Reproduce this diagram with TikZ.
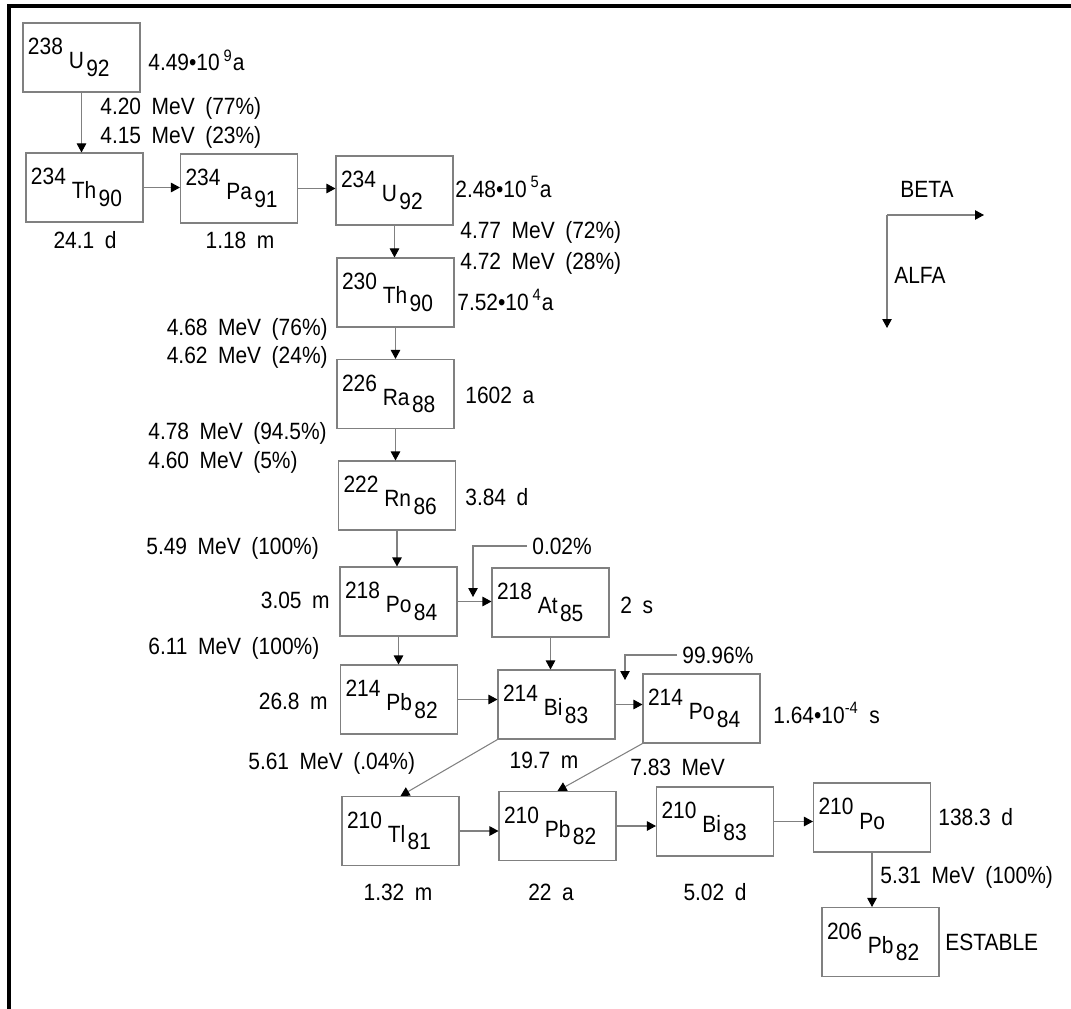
\documentclass[tikz,border=0pt]{standalone}
\usepackage{fontspec}
\setmainfont{Liberation Sans}[FakeStretch=0.89]
\usetikzlibrary{arrows.meta}

\newcommand{\decayfont}{\fontsize{13.4}{15}\selectfont\spaceskip=6pt\relax}
\newcommand{\iso}[3]{\raisebox{0.6em}{#1}\hspace{0.25em}#2\hspace{0.1em}\raisebox{-0.32em}{#3}}

\begin{document}
\begin{tikzpicture}[
    x=0.2mm, y=-0.2mm,
    >={Triangle[length=1.8mm,width=1.9mm,color=black]},
    nucl/.style={draw=gray, line width=0.6pt, minimum height=13.8mm, text width=21.4mm,
                 inner xsep=1mm, inner ysep=0pt, align=left, font=\decayfont},
    txt/.style={font=\decayfont, inner sep=0pt},
    conn/.style={->, draw=gray, line width=0.6pt}
]
\useasboundingbox (0,0) rectangle (1071,1009);

% Frame (left and top only)
\draw[line width=2.6pt] (9,1009) -- (9,6) -- (1071,6);

% === Nuclides ===
\node[nucl] (u238)  at (81.5,57.5)  {\iso{238}{U}{92}};
\node[nucl] (th234) at (84.5,187.5) {\iso{234}{Th}{90}};
\node[nucl] (pa234) at (239,188.5)  {\iso{234}{Pa}{91}};
\node[nucl] (u234)  at (394.5,190.5) {\iso{234}{U}{92}};
\node[nucl] (th230) at (395.5,292.5) {\iso{230}{Th}{90}};
\node[nucl] (ra226) at (395.5,394)  {\iso{226}{Ra}{88}};
\node[nucl] (rn222) at (397,495.5)  {\iso{222}{Rn}{86}};
\node[nucl] (po218) at (398.5,601.5) {\iso{218}{Po}{84}};
\node[nucl] (at218) at (550.5,602.5) {\iso{218}{At}{85}};
\node[nucl] (pb214) at (399,699.5)  {\iso{214}{Pb}{82}};
\node[nucl] (bi214) at (556.5,704.5) {\iso{214}{Bi}{83}};
\node[nucl] (po214) at (701.5,708.5) {\iso{214}{Po}{84}};
\node[nucl] (tl210) at (400.5,831)  {\iso{210}{Tl}{81}};
\node[nucl] (pb210) at (557.5,826)  {\iso{210}{Pb}{82}};
\node[nucl] (bi210) at (715,821.5)  {\iso{210}{Bi}{83}};
\node[nucl] (po210) at (872,817.5)  {\iso{210}{Po}{}};
\node[nucl] (pb206) at (880.5,942)  {\iso{206}{Pb}{82}};

% === Decays ===
\draw[conn] (u238.south) -- (u238.south |- th234.north);
\draw[conn] (th234.east) -- (th234.east -| pa234.west);
\draw[conn] (pa234.east) -- (pa234.east -| u234.west);
\draw[conn] (u234.south) -- (u234.south |- th230.north);
\draw[conn] (th230.south) -- (th230.south |- ra226.north);
\draw[conn] (ra226.south) -- (ra226.south |- rn222.north);
\draw[conn] (rn222.south) -- (rn222.south |- po218.north);
\draw[conn] (po218.east) -- (po218.east -| at218.west);
\draw[conn] (po218.south) -- (po218.south |- pb214.north);
\draw[conn] (at218.south) -- (at218.south |- bi214.north);
\draw[conn] (pb214.east) -- (pb214.east -| bi214.west);
\draw[conn] (bi214.east) -- (bi214.east -| po214.west);
\draw[conn] (bi214.south west) -- (tl210.north);
\draw[conn] (po214.south west) -- (pb210.north);
\draw[conn] (tl210.east) -- (tl210.east -| pb210.west);
\draw[conn] (pb210.east) -- (pb210.east -| bi210.west);
\draw[conn] (bi210.east) -- (bi210.east -| po210.west);
\draw[conn] (po210.south) -- (po210.south |- pb206.north);

% === Branching ratios ===
\node[txt, anchor=west, inner xsep=1mm] (br002) at (527,546) {0.02\%};
\coordinate (br002end) at (473,597);
\draw[conn] (br002.west) -| (br002end);
\node[txt, anchor=west, inner xsep=1mm] (br9996) at (677,655) {99.96\%};
\coordinate (br9996end) at (625,680);
\draw[conn] (br9996.west) -| (br9996end);

% === Half-lives ===
\node[txt, anchor=west] (tu238)  at (148,60)  {4.49\textbullet10\,\textsuperscript{9}a};
\node[txt] (tth234) at (85,240)  {24.1 d};
\node[txt] (tpa234) at (240,240) {1.18 m};
\node[txt, anchor=west] (tu234)  at (455,187) {2.48\textbullet10\,\textsuperscript{5}a};
\node[txt, anchor=west] (tth230) at (457,300) {7.52\textbullet10\,\textsuperscript{4}a};
\node[txt, anchor=west] (tra226) at (465,395) {1602 a};
\node[txt, anchor=west] (trn222) at (465,497) {3.84 d};
\node[txt, anchor=east] (tpo218) at (330,600) {3.05 m};
\node[txt, anchor=west] (tat218) at (620,605) {2 s};
\node[txt, anchor=east] (tpb214) at (328,701) {26.8 m};
\node[txt] (tbi214) at (544,760) {19.7 m};
\node[txt, anchor=west] (tpo214) at (773,713) {1.64\textbullet10\textsuperscript{-4} s};
\node[txt] (ttl210) at (398,892) {1.32 m};
\node[txt] (tpb210) at (551,892) {22 a};
\node[txt] (tbi210) at (715,892) {5.02 d};
\node[txt, anchor=west] (tpo210) at (938,817) {138.3 d};
\node[txt, anchor=west] (tpb206) at (945,942) {ESTABLE};

% === Alpha energies ===
\node[txt, anchor=west] (eu238a) at (100,108) {4.20 MeV (77\%)};
\node[txt, anchor=west] (eu238b) at (100,137) {4.15 MeV (23\%)};
\node[txt, anchor=west] (eu234a) at (460,232) {4.77 MeV (72\%)};
\node[txt, anchor=west] (eu234b) at (460,263) {4.72 MeV (28\%)};
\node[txt, anchor=east] (eth230a) at (328,329) {4.68 MeV (76\%)};
\node[txt, anchor=east] (eth230b) at (328,357) {4.62 MeV (24\%)};
\node[txt, anchor=west] (era226a) at (148,433) {4.78 MeV (94.5\%)};
\node[txt, anchor=west] (era226b) at (148,462) {4.60 MeV (5\%)};
\node[txt, anchor=west] (ern222) at (146,548) {5.49 MeV (100\%)};
\node[txt, anchor=west] (epo218) at (148,648) {6.11 MeV (100\%)};
\node[txt, anchor=west] (ebi214) at (248,763) {5.61 MeV (.04\%)};
\node[txt, anchor=west] (epo214) at (630,767) {7.83 MeV};
\node[txt, anchor=west] (epo210) at (880,877) {5.31 MeV (100\%)};

% === Legend ===
\coordinate (legend) at (887,215);
\coordinate (betaend) at (984,215);
\coordinate (alfaend) at (887,328);
\draw[conn] (legend) -- (betaend);
\draw[conn] (legend) -- (alfaend);
\node[txt, anchor=west] (beta) at (900,189) {BETA};
\node[txt, anchor=west] (alfa) at (894,275) {ALFA};
\end{tikzpicture}
\end{document}
